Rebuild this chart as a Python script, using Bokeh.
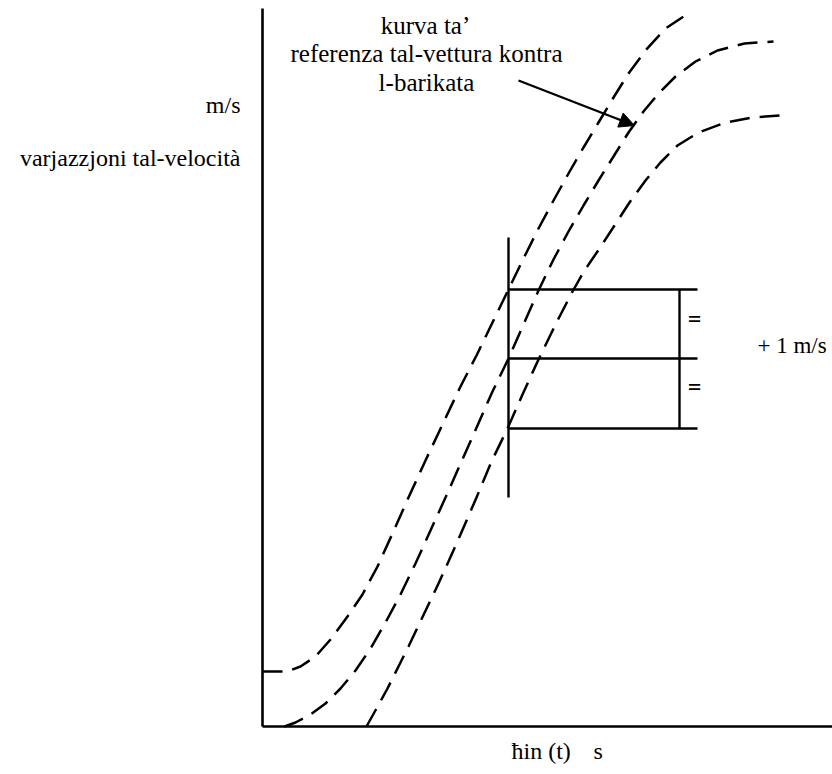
from bokeh.plotting import figure
from bokeh.models import Range1d, Label, Arrow, NormalHead
from bokeh.embed import file_html
from bokeh.resources import INLINE

# ---- data (t: time axis units, v: speed axis units) ----
upper_t = [0, 25, 38, 53, 68, 85, 100, 115, 130, 146, 163, 180, 197, 214, 230, 246, 261, 276, 291, 306, 321, 336, 351, 366, 383, 403, 427]
upper_v = [55, 55, 60, 70, 87, 110, 132, 160, 193, 229, 266, 302, 338, 371, 404, 437, 468, 498, 526, 553, 579, 604, 629, 653, 676, 698, 714]

ref_t = [22, 33, 48, 63, 78, 93, 108, 123, 138, 153, 168, 183, 199, 215, 230, 246, 261, 276, 291, 306, 321, 336, 351, 366, 381, 396, 413, 433, 455, 482, 511]
ref_v = [0, 4, 12, 23, 38, 56, 78, 104, 132, 163, 196, 229, 265, 301, 335, 368, 402, 436, 467, 495, 521, 546, 570, 594, 615, 633, 650, 665, 676, 683, 685]

lower_t = [104, 114, 125, 136, 146, 156, 166, 176, 186, 198, 214, 229, 245, 260, 276, 293, 310, 322, 337, 352, 367, 383, 398, 415, 436, 463, 490, 517]
lower_v = [0, 18, 38, 60, 80, 101, 122, 143, 165, 192, 229, 265, 298, 332, 367, 402, 435, 456, 478, 501, 524, 546, 564, 581, 594, 604, 609, 611]

check_t = 246                 # time of the vertical check line
check_v_range = [229, 489]    # extent of the vertical check line
levels = [437, 368, 298]      # speed levels (upper / reference / lower)
level_end_t = 435
bracket_t = 417

FONT = "Liberation Serif"
W, H = 832, 774

p = figure(width=W, height=H, output_backend="svg", toolbar_location=None,
           x_range=Range1d(-262, 570), y_range=Range1d(-48, 726),
           min_border=0, min_border_left=0, min_border_right=0,
           min_border_top=0, min_border_bottom=0)
p.axis.visible = False
p.grid.visible = False
p.outline_line_color = None
p.background_fill_color = "white"

# axes lines
p.segment(x0=[0, 0], y0=[0, 0], x1=[0, 570], y1=[718, 0], line_color="black", line_width=2.6)

# dashed curves
for xs, ys in [(upper_t, upper_v), (ref_t, ref_v), (lower_t, lower_v)]:
    p.line(xs, ys, line_color="black", line_width=2.5, line_dash="20 10")

# vertical check line
p.segment(x0=[check_t], y0=[check_v_range[0]], x1=[check_t], y1=[check_v_range[1]],
          line_color="black", line_width=2.4)
# horizontal level lines
p.segment(x0=[check_t] * 3, y0=levels, x1=[level_end_t] * 3, y1=levels,
          line_color="black", line_width=2.4)
# bracket
p.segment(x0=[bracket_t], y0=[levels[0]], x1=[bracket_t], y1=[levels[2]],
          line_color="black", line_width=2.4)

# arrow
p.add_layout(Arrow(end=NormalHead(size=15, fill_color="black", line_color="black"),
                   x_start=256, y_start=646, x_end=372, y_end=601,
                   line_color="black", line_width=2.4))

def lab(txt, x, y, align="center", size="24px", baseline="middle", style="normal"):
    p.add_layout(Label(x=x, y=y, text=txt, text_font=FONT, text_font_size=size,
                       text_align=align, text_baseline=baseline, text_color="black",
                       text_font_style=style))

lab("kurva ta\u2019", 163, 701, size="25px")
lab("referenza tal-vettura kontra", 164, 673, size="25px")
lab("l-barikata", 164, 644, size="25px")
lab("m/s", -22, 622, align="right")
lab("varjazzjoni tal-velocità", -22, 569, align="right")
lab("+ 1 m/s", 495, 381, align="left", size="23px")
lab("ħin (t)", 249, -24, align="left")
lab("s", 331, -24, align="left")
lab("=", 432, 408, size="24px", style="bold")
lab("=", 432, 340, size="24px", style="bold")

open("out.html", "w").write(file_html(p, INLINE))
